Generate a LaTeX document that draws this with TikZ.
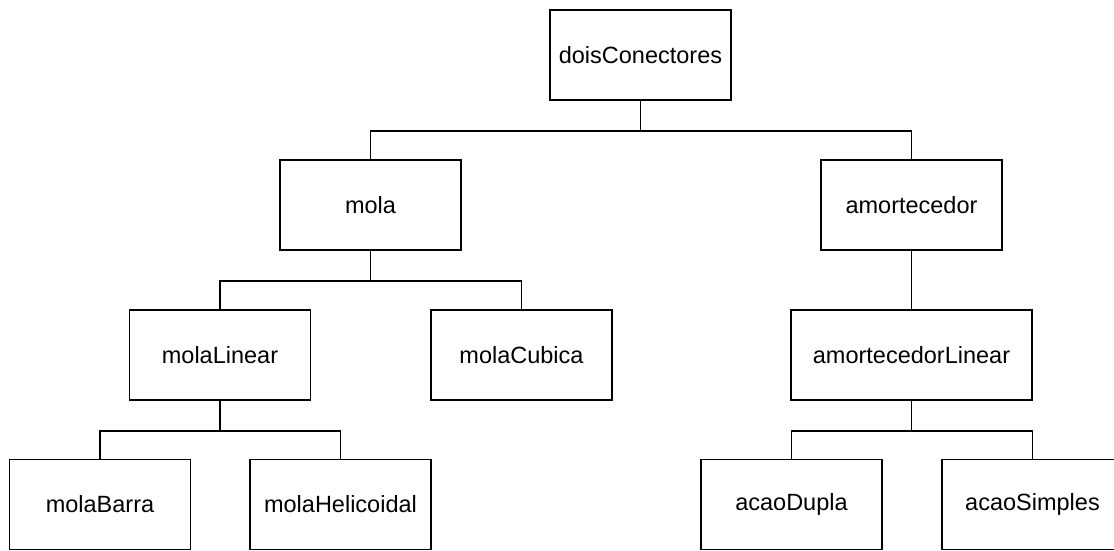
\documentclass[tikz,border=0pt]{standalone}
\usepackage{fontspec}
\setmainfont{Liberation Sans}
\usepackage{tikz}

\begin{document}
\begin{tikzpicture}[x=1pt, y=-1pt,
  caixa/.style={draw, line width=1.6pt, minimum width=181pt, minimum height=90pt,
    inner sep=0pt, font=\fontsize{23.5}{28}\selectfont},
  liga/.style={line width=1.6pt}]

\useasboundingbox (0,0) rectangle (1114,550);

\node[caixa] (dois) at (640.5,55) {doisConectores};
\node[caixa] (mola) at (370.5,205) {mola};
\node[caixa] (amort) at (911.5,205) {amortecedor};
\node[caixa] (molaLin) at (220,355) {molaLinear};
\node[caixa] (molaCub) at (521.5,355) {molaCubica};
\node[caixa, minimum width=241pt] (amortLin) at (911.5,355) {amortecedorLinear};
\node[caixa] (molaBarra) at (100,504.5) {molaBarra};
\node[caixa] (molaHel) at (340.5,504.5) {molaHelicoidal};
\node[caixa] (dupla) at (791.5,504.5) {acaoDupla};
\node[caixa] (simples) at (1032.5,504.5) {acaoSimples};

\draw[liga] (dois.south) -- ++(0,30) -| (mola.north);
\draw[liga] (dois.south) -- ++(0,30) -| (amort.north);
\draw[liga] (mola.south) -- ++(0,30) -| (molaLin.north);
\draw[liga] (mola.south) -- ++(0,30) -| (molaCub.north);
\draw[liga] (amort.south) -- (amortLin.north);
\draw[liga] (molaLin.south) -- ++(0,30) -| (molaBarra.north);
\draw[liga] (molaLin.south) -- ++(0,30) -| (molaHel.north);
\draw[liga] (amortLin.south) -- ++(0,30) -| (dupla.north);
\draw[liga] (amortLin.south) -- ++(0,30) -| (simples.north);

\end{tikzpicture}
\end{document}
